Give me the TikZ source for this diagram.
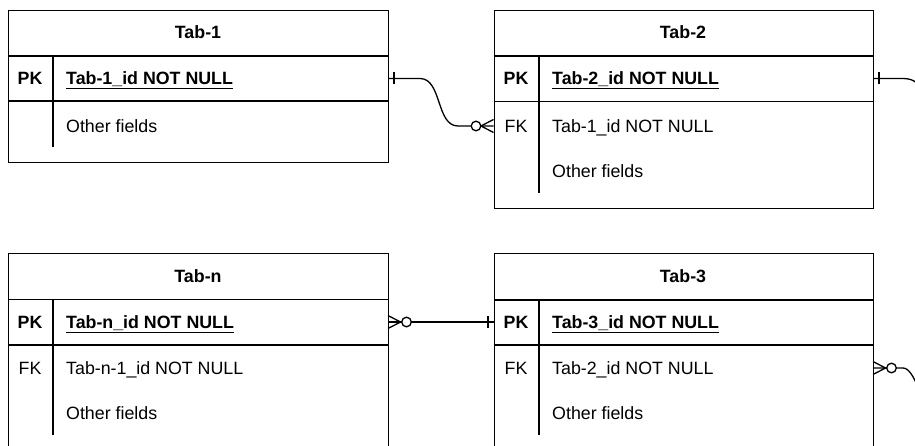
\documentclass[tikz,border=0pt]{standalone}
\usepackage{fontspec}
\setmainfont{Liberation Sans}
\begin{document}
\begin{tikzpicture}[x=1pt,y=-1pt,
  lw/.style={line width=1.3pt},
  tbl/.style={draw, lw, inner sep=0pt, anchor=north west, minimum width=379.5pt},
  txt/.style={inner sep=0pt, anchor=base west},
  ctr/.style={inner sep=0pt, anchor=base},
  conn/.style={lw, draw},
  ring/.style={lw, draw, fill=white},
  every node/.style={font=\fontsize{17.8}{21}\selectfont}
]
\useasboundingbox (0,0) rectangle (915,446);
\clip (0,0) rectangle (915,446);

% ---------- Tab-1 ----------
\node[tbl, minimum height=152pt] (t1) at (8,10) {};
\draw[lw] (8,56) -- (388,56);
\draw[lw] (8,101) -- (388,101);
\draw[lw] (53,56) -- (53,147);
\node[ctr] (t1t) at (198,39) {\textbf{Tab-1}};
\node[ctr] (t1pkl) at (30,84.5) {\textbf{PK}};
\node[txt] (t1f1) at (66,84.5) {\textbf{Tab-1\_id NOT NULL}};
\draw[lw] ([yshift=-3.7pt]t1f1.base west) -- ([yshift=-3.7pt]t1f1.base east);
\node[txt] (t1f2) at (66,132.5) {Other fields};

% ---------- Tab-2 ----------
\node[tbl, minimum height=198pt] (t2) at (493.5,10) {};
\draw[lw] (493.5,56) -- (873,56);
\draw[lw] (493.5,101.5) -- (873,101.5);
\draw[lw] (539,56) -- (539,193);
\node[ctr] (t2t) at (683,39) {\textbf{Tab-2}};
\node[ctr] (t2pkl) at (516,85) {\textbf{PK}};
\node[txt] (t2f1) at (552,85) {\textbf{Tab-2\_id NOT NULL}};
\draw[lw] ([yshift=-3.7pt]t2f1.base west) -- ([yshift=-3.7pt]t2f1.base east);
\node[ctr] (t2fkl) at (516,132.5) {FK};
\node[txt] (t2f2) at (552,132.5) {Tab-1\_id NOT NULL};
\node[txt] (t2f3) at (552,177.5) {Other fields};

% ---------- Tab-n ----------
\node[tbl, minimum height=220pt] (tn) at (8,253) {};
\draw[lw] (8,299.5) -- (388,299.5);
\draw[lw] (8,345) -- (388,345);
\draw[lw] (53,299.5) -- (53,435);
\node[ctr] (tnt) at (198,282.5) {\textbf{Tab-n}};
\node[ctr] (tnpkl) at (30,328.5) {\textbf{PK}};
\node[txt] (tnf1) at (66,328.5) {\textbf{Tab-n\_id NOT NULL}};
\draw[lw] ([yshift=-3.7pt]tnf1.base west) -- ([yshift=-3.7pt]tnf1.base east);
\node[ctr] (tnfkl) at (30,374.5) {FK};
\node[txt] (tnf2) at (66,374.5) {Tab-n-1\_id NOT NULL};
\node[txt] (tnf3) at (66,419.5) {Other fields};

% ---------- Tab-3 ----------
\node[tbl, minimum height=220pt] (t3) at (493.5,253) {};
\draw[lw] (493.5,300) -- (873,300);
\draw[lw] (493.5,345) -- (873,345);
\draw[lw] (539,300) -- (539,435);
\node[ctr] (t3t) at (683,282.5) {\textbf{Tab-3}};
\node[ctr] (t3pkl) at (516,328.5) {\textbf{PK}};
\node[txt] (t3f1) at (552,328.5) {\textbf{Tab-3\_id NOT NULL}};
\draw[lw] ([yshift=-3.7pt]t3f1.base west) -- ([yshift=-3.7pt]t3f1.base east);
\node[ctr] (t3fkl) at (516,374.5) {FK};
\node[txt] (t3f2) at (552,374.5) {Tab-2\_id NOT NULL};
\node[txt] (t3f3) at (552,419.5) {Other fields};

% ---------- connector end points ----------
\coordinate (c1a) at (388,78.5);
\coordinate (c1b) at (493.5,126);
\coordinate (c2a) at (873,78.5);
\coordinate (c2b) at (873,368);
\coordinate (c3a) at (388,322);
\coordinate (c3b) at (493.5,322);

% Tab-1 PK -> Tab-2 FK
\draw[conn] (c1a) -- ++(32,0) .. controls ++(22,0) and ++(-22,0) .. ([xshift=-35.5pt]c1b) -- (c1b);
\draw[lw] ([xshift=6pt,yshift=-6pt]c1a) -- ([xshift=6pt,yshift=6pt]c1a);
\draw[lw] ([yshift=-6.5pt]c1b) -- ([xshift=-12.5pt]c1b) -- ([yshift=6.5pt]c1b);
\draw[ring] ([xshift=-17.5pt]c1b) circle (4.8pt);

% Tab-2 PK -> Tab-3 FK (loops beyond the right edge)
\draw[conn] (c2a) -- ++(30,0) .. controls ++(12,0) and ++(0,-15) .. ++(19,21)
  -- ([xshift=49pt,yshift=-23pt]c2b) .. controls ++(0,15) and ++(12,0) .. ([xshift=30pt]c2b) -- (c2b);
\draw[lw] ([xshift=6pt,yshift=-6pt]c2a) -- ([xshift=6pt,yshift=6pt]c2a);
\draw[lw] ([yshift=-6.5pt]c2b) -- ([xshift=12.5pt]c2b) -- ([yshift=6.5pt]c2b);
\draw[ring] ([xshift=18.5pt]c2b) circle (4.8pt);

% Tab-n PK -> Tab-3 PK
\draw[conn] (c3a) -- (c3b);
\draw[lw] ([yshift=-6.5pt]c3a) -- ([xshift=12.5pt]c3a) -- ([yshift=6.5pt]c3a);
\draw[ring] ([xshift=18.5pt]c3a) circle (4.8pt);
\draw[lw] ([xshift=-5.5pt,yshift=-6pt]c3b) -- ([xshift=-5.5pt,yshift=6pt]c3b);
\end{tikzpicture}
\end{document}
